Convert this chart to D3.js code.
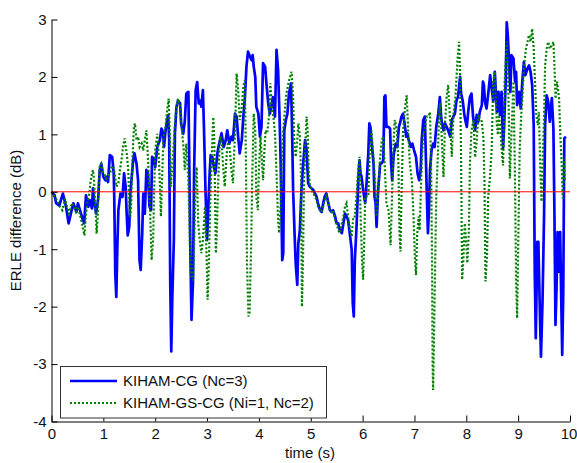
<!DOCTYPE html>
<html>
<head>
<meta charset="utf-8">
<script src="https://cdn.jsdelivr.net/npm/d3@7"></script>
<style>
  html, body { margin: 0; padding: 0; background: #fff; }
  svg { display: block; font-family: "Liberation Sans", Arial, sans-serif; }
</style>
</head>
<body>
<svg id="chart" width="577" height="463"></svg>
<script>
// ---- data ----
const xTicks = [0, 1, 2, 3, 4, 5, 6, 7, 8, 9, 10];
const yTicks = [-4, -3, -2, -1, 0, 1, 2, 3];
const seriesNames = ["KIHAM-CG (Nc=3)", "KIHAM-GS-CG (Ni=1, Nc=2)"];
const xLabel = "time (s)";
const yLabel = "ERLE difference (dB)";

const blueT = [0.0,0.06,0.09,0.15,0.22,0.28,0.33,0.42,0.48,0.51,0.6,0.63,0.665,0.71,0.74,0.78,0.8,0.82,0.86,0.9,0.93,0.96,1.0,1.04,1.06,1.09,1.125,1.17,1.2,1.21,1.23,1.25,1.27,1.29,1.33,1.37,1.4,1.43,1.45,1.47,1.5,1.52,1.575,1.6,1.64,1.67,1.697,1.72,1.75,1.77,1.8,1.83,1.86,1.89,1.92,1.94,1.98,2.0,2.04,2.09,2.12,2.15,2.17,2.2,2.23,2.25,2.27,2.29,2.31,2.33,2.36,2.38,2.41,2.44,2.48,2.5,2.54,2.57,2.6,2.64,2.66,2.68,2.7,2.73,2.75,2.78,2.81,2.84,2.86,2.89,2.92,2.94,2.97,3.0,3.02,3.05,3.07,3.1,3.12,3.16,3.2,3.22,3.25,3.28,3.32,3.36,3.39,3.43,3.47,3.5,3.54,3.57,3.6,3.63,3.67,3.7,3.73,3.76,3.79,3.83,3.86,3.88,3.9,3.93,3.95,3.99,4.02,4.05,4.08,4.12,4.15,4.18,4.21,4.24,4.27,4.31,4.34,4.37,4.4,4.42,4.45,4.47,4.49,4.52,4.55,4.58,4.62,4.64,4.66,4.69,4.71,4.74,4.76,4.79,4.82,4.85,4.89,4.92,4.95,4.98,5.05,5.08,5.11,5.14,5.18,5.21,5.24,5.27,5.3,5.34,5.37,5.4,5.43,5.47,5.5,5.53,5.56,5.6,5.63,5.66,5.69,5.72,5.76,5.79,5.81,5.83,5.85,5.88,5.92,5.94,5.96,5.98,6.01,6.05,6.08,6.11,6.13,6.15,6.17,6.21,6.23,6.25,6.27,6.3,6.34,6.37,6.4,6.42,6.44,6.46,6.5,6.53,6.55,6.57,6.6,6.64,6.67,6.7,6.72,6.75,6.78,6.81,6.84,6.86,6.89,6.93,6.96,6.99,7.03,7.06,7.09,7.12,7.14,7.17,7.2,7.22,7.24,7.26,7.28,7.3,7.33,7.36,7.39,7.42,7.46,7.49,7.52,7.56,7.59,7.62,7.65,7.69,7.72,7.75,7.78,7.81,7.84,7.88,7.9,7.93,7.96,7.98,8.01,8.04,8.07,8.1,8.13,8.17,8.2,8.23,8.26,8.3,8.32,8.34,8.36,8.39,8.42,8.46,8.49,8.52,8.55,8.59,8.62,8.65,8.68,8.71,8.73,8.76,8.78,8.8,8.83,8.85,8.87,8.91,8.94,8.96,8.98,9.02,9.05,9.08,9.11,9.14,9.18,9.21,9.24,9.27,9.3,9.32,9.34,9.37,9.39,9.42,9.44,9.47,9.5,9.52,9.55,9.58,9.61,9.65,9.68,9.7,9.72,9.74,9.76,9.79,9.81,9.83,9.85,9.87,9.89,9.92];
const blueV = [0,-0.06,-0.2,-0.24,-0.03,-0.26,-0.55,-0.2,-0.35,-0.2,-0.47,-0.55,-0.06,-0.26,-0.15,-0.29,0.06,-0.15,-0.38,-0.12,0.38,0.49,0.26,0.2,0.26,0.17,0.64,0.61,0.32,-0.09,-1.42,-1.83,-0.96,-0.32,-0.03,-0.09,0.32,0.09,-0.38,-0.76,-0.61,-0.03,0.55,0.67,0.49,0.2,-1.19,-1.36,-0.72,-0.03,-0.38,0.38,0.32,-0.26,-0.32,0.61,0.55,0.43,0.78,0.9,1.1,1.04,0.78,1.07,1.25,1.33,0.9,-1.59,-2.78,-1.83,-0.84,1.01,1.48,1.59,1.54,1.19,1.01,1.22,1.71,1.74,0.32,-1.13,-2.23,-1.54,0.32,1.77,1.91,1.54,1.59,1.48,1.77,1.13,0.03,-0.84,-0.38,0.32,0.64,0.61,0.49,0.32,0.67,0.78,0.9,1.02,0.78,0.9,1.07,0.84,0.96,0.9,1.36,1.31,0.96,0.67,0.9,1.31,1.65,2.18,2.44,2.35,2.29,2.38,2.18,2.0,1.48,1.36,0.96,1.13,2.24,2.18,1.83,1.54,1.36,1.48,1.65,1.31,2.47,2.12,1.25,0.5,-1.19,-1.07,1.07,1.25,1.36,1.71,1.89,1.07,0.03,-0.78,-1.25,-1.62,-0.9,-0.67,0.03,0.44,0.9,0.73,0.15,0.09,0.03,-0.03,-0.08,-0.2,-0.32,-0.35,-0.2,-0.08,-0.03,-0.2,-0.32,-0.35,-0.32,-0.43,-0.55,-0.55,-0.67,-0.72,-0.55,-0.38,-0.43,-0.49,-0.78,-1.01,-1.94,-2.17,-1.19,-0.67,0.26,0.55,0.32,0.26,0.03,-0.2,0.2,0.67,1.19,1.13,0.9,0.5,-0.08,-0.2,-0.61,0.03,0.5,0.5,0.55,1.65,1.68,1.13,1.13,1.1,0.5,0.2,0.65,0.84,0.78,1.13,1.19,1.31,1.36,1.19,0.96,1.02,0.9,0.78,0.84,0.73,0.61,0.32,0.2,0.38,0.9,1.25,1.31,0.61,-0.08,-0.72,-0.32,0.38,0.73,0.84,0.78,1.13,1.36,1.65,1.25,1.07,1.19,1.13,1.07,0.96,1.25,1.31,1.36,1.59,1.65,2.0,1.71,1.59,1.36,1.25,1.13,1.42,1.65,1.71,1.31,1.07,1.34,1.22,1.39,1.51,1.92,1.86,1.57,1.45,1.68,2.03,1.8,1.57,2.09,1.39,1.74,1.34,1.74,0.76,1.16,1.92,2.95,2.73,2.15,1.74,2.38,2.32,1.92,2.09,1.51,1.74,1.45,1.92,2.26,2.03,2.15,2.2,2.09,1.86,1.16,-1.39,-2.55,-0.87,-0.87,-2.14,-2.87,-1.91,-0.4,1.16,1.68,1.57,1.22,1.63,1.1,-0.4,-2.32,-1.68,-0.7,-1.39,-0.7,-1.8,-2.84,-1.74,0.93,0.96];

const greenT = [0.0,0.06,0.11,0.16,0.21,0.26,0.3,0.34,0.39,0.43,0.47,0.51,0.56,0.6,0.636,0.66,0.69,0.73,0.75,0.78,0.8,0.82,0.85,0.87,0.89,0.91,0.93,0.96,1.0,1.03,1.06,1.09,1.13,1.16,1.19,1.22,1.25,1.29,1.32,1.35,1.38,1.41,1.45,1.48,1.5,1.52,1.54,1.56,1.59,1.61,1.64,1.67,1.7,1.74,1.77,1.8,1.83,1.86,1.9,1.93,1.96,1.98,2.0,2.04,2.07,2.09,2.11,2.13,2.16,2.2,2.23,2.26,2.28,2.3,2.32,2.35,2.38,2.41,2.44,2.48,2.51,2.55,2.57,2.6,2.64,2.67,2.7,2.73,2.75,2.78,2.8,2.83,2.86,2.89,2.92,2.96,2.99,3.01,3.03,3.06,3.09,3.12,3.14,3.17,3.19,3.22,3.25,3.28,3.31,3.34,3.38,3.41,3.44,3.47,3.5,3.54,3.57,3.6,3.63,3.67,3.7,3.73,3.75,3.77,3.8,3.82,3.85,3.87,3.9,3.93,3.95,3.98,4.0,4.03,4.05,4.08,4.11,4.13,4.16,4.2,4.22,4.25,4.28,4.31,4.34,4.37,4.39,4.42,4.44,4.47,4.5,4.53,4.57,4.6,4.63,4.66,4.68,4.71,4.74,4.76,4.79,4.81,4.83,4.85,4.87,4.9,4.92,4.94,4.96,4.98,5.01,5.05,5.08,5.11,5.14,5.18,5.21,5.24,5.27,5.3,5.34,5.37,5.4,5.43,5.47,5.5,5.53,5.56,5.6,5.63,5.66,5.69,5.72,5.76,5.79,5.82,5.85,5.88,5.92,5.94,5.96,5.99,6.01,6.03,6.05,6.08,6.11,6.14,6.17,6.21,6.24,6.27,6.3,6.34,6.37,6.4,6.43,6.46,6.5,6.54,6.57,6.6,6.62,6.66,6.69,6.71,6.73,6.75,6.78,6.82,6.85,6.88,6.91,6.95,6.98,7.01,7.03,7.05,7.08,7.1,7.14,7.17,7.2,7.23,7.27,7.3,7.32,7.34,7.35,7.36,7.38,7.4,7.42,7.45,7.47,7.49,7.52,7.56,7.59,7.62,7.65,7.69,7.72,7.74,7.76,7.79,7.83,7.86,7.88,7.9,7.92,7.94,7.97,8.0,8.02,8.05,8.07,8.1,8.14,8.17,8.2,8.23,8.26,8.3,8.33,8.35,8.37,8.4,8.42,8.46,8.49,8.52,8.55,8.59,8.61,8.63,8.66,8.69,8.71,8.74,8.78,8.8,8.82,8.84,8.86,8.89,8.91,8.94,8.96,8.98,9.0,9.03,9.06,9.08,9.11,9.15,9.18,9.21,9.24,9.27,9.3,9.32,9.35,9.38,9.4,9.43,9.45,9.47,9.5,9.52,9.55,9.58,9.61,9.65,9.68,9.7,9.72,9.75,9.79,9.81,9.84,9.86,9.89,9.9];
const greenV = [0,-0.09,-0.15,-0.26,-0.32,-0.12,-0.26,-0.38,-0.2,-0.26,-0.35,-0.26,-0.44,-0.61,-0.76,-0.44,-0.2,-0.03,0.15,0.32,0.38,0.2,-0.32,-0.73,-0.44,0.09,0.44,0.49,0.32,0.29,0.23,0.26,0.32,0.44,0.44,0.32,0.09,0.15,0.38,0.55,0.78,0.93,0.67,0.38,-0.15,-0.44,-0.15,0.55,1.13,1.19,0.9,0.96,0.78,0.84,0.72,0.9,1.07,0.61,-0.26,-1.19,-0.84,0.03,0.72,1.01,0.61,0.14,-0.43,0.14,0.96,1.13,1.42,1.62,1.01,0.09,0.32,0.72,1.19,1.48,1.62,1.48,1.13,0.72,0.38,0.84,0.2,-0.96,-1.48,-1.54,-0.96,0.2,0.43,-0.55,-0.84,-1.07,-0.84,-0.26,-1.07,-1.88,-1.42,-0.26,0.61,1.3,0.9,-1.07,-0.67,0.32,0.96,0.9,0.44,0.09,0.67,0.9,0.73,0.38,0.15,1.07,2.06,1.77,1.25,1.48,1.83,1.94,0.5,-1.24,-2.17,-2.11,-0.96,0.2,1.36,1.07,-0.08,-0.32,0.38,0.96,0.67,0.2,0.78,1.07,1.02,1.36,1.89,1.42,1.31,1.02,0.32,-0.49,-0.72,-0.2,0.5,1.07,1.42,1.71,1.89,2.0,2.09,1.65,0.9,0.61,0.9,1.19,0.96,0.38,-2.0,-1.24,0.15,0.9,1.31,1.07,0.38,0.15,0.03,-0.03,-0.08,-0.14,-0.26,-0.32,-0.35,-0.26,-0.14,-0.08,-0.2,-0.32,-0.35,-0.32,-0.49,-0.55,-0.67,-0.72,-0.55,-0.43,-0.26,-0.2,-0.43,-0.67,-0.78,-0.43,-0.43,-0.08,0.44,0.61,-0.38,-1.24,-1.53,-0.9,-0.08,-0.08,-0.08,0.73,1.07,0.61,0.2,-0.43,0.03,0.61,0.9,0.96,0.38,-0.2,-0.32,-0.93,0.0,0.9,1.25,1.07,0.5,-0.67,-1.04,-0.08,1.07,1.48,1.68,1.07,0.5,0.2,-0.38,-1.19,-1.45,-0.78,-0.43,-0.67,0.5,1.02,1.07,1.31,1.31,1.39,0.5,-1.24,-2.98,-3.45,-2.4,-1.24,-0.08,0.61,1.19,1.54,1.07,0.26,1.19,1.65,1.86,1.19,0.61,1.07,1.42,1.65,2.29,2.61,2.06,0.5,-1.53,-1.24,-0.55,-0.9,-1.24,-0.67,0.5,1.07,1.25,0.6,0.87,1.34,1.28,1.22,0.93,0.18,-1.56,-1.1,-0.11,0.29,0.76,1.92,2.09,1.16,0.99,1.34,1.05,0.64,0.46,1.92,2.61,2.2,1.34,0.23,0.76,1.45,1.92,0.18,-1.56,-2.2,-0.99,0.76,1.34,1.62,2.15,2.49,2.61,2.73,2.61,2.84,2.49,2.03,1.34,1.16,1.39,0.29,-0.17,0.46,1.34,2.2,2.49,2.61,2.49,2.55,2.61,2.2,1.62,1.92,1.62,1.05,0.46,-0.11,0.58,0.18];

const refT = [0, 10];
const refV = [0, 0];

// ---- chart ----
const svg = d3.select("#chart");
const x = d3.scaleLinear().domain([0, 10]).range([51.5, 570]);
const y = d3.scaleLinear().domain([-4, 3]).range([421.5, 19.5]);

const line = d3.line().x(d => x(d[0])).y(d => y(d[1]));
const zip = (a, b) => a.map((t, i) => [t, b[i]]);

svg.append("path")
  .datum(zip(blueT, blueV))
  .attr("d", line)
  .attr("fill", "none")
  .attr("stroke", "#0000ff")
  .attr("stroke-width", 2.7)
  .attr("stroke-linejoin", "round");

svg.append("path")
  .datum(zip(greenT, greenV))
  .attr("d", line)
  .attr("fill", "none")
  .attr("stroke", "#008000")
  .attr("stroke-width", 2.2)
  .attr("stroke-dasharray", "2,2");

svg.append("path")
  .datum(zip(refT, refV))
  .attr("d", line)
  .attr("fill", "none")
  .attr("stroke", "#ff0000")
  .attr("stroke-width", 1);

// axes
const fmt = d => String(d);
const xAxis = svg.append("g")
  .attr("transform", `translate(0,${y(-4)})`)
  .call(d3.axisBottom(x).tickValues(xTicks).tickFormat(fmt).tickSizeInner(-6).tickSizeOuter(0).tickPadding(7));
const yAxis = svg.append("g")
  .attr("transform", `translate(${x(0)},0)`)
  .call(d3.axisLeft(y).tickValues(yTicks).tickFormat(fmt).tickSizeInner(-6).tickSizeOuter(0).tickPadding(5));

[xAxis, yAxis].forEach(g => {
  g.selectAll("path.domain").attr("stroke", "#000").attr("stroke-width", 1);
  g.selectAll(".tick line").attr("stroke", "#000").attr("stroke-width", 1);
  g.selectAll("text").attr("font-size", 15).attr("fill", "#111")
    .attr("font-family", "'Liberation Sans', Arial, sans-serif");
});
// keep the last x label inside the window
xAxis.selectAll(".tick text").filter(d => d === 10).attr("dx", -1.5);

// axis labels
svg.append("text")
  .attr("x", 310).attr("y", 458)
  .attr("text-anchor", "middle")
  .attr("font-size", 15)
  .attr("fill", "#111")
  .text(xLabel);

svg.append("text")
  .attr("transform", `translate(21,${(y(-4) + y(3)) / 2}) rotate(-90)`)
  .attr("text-anchor", "middle")
  .attr("font-size", 15)
  .attr("fill", "#111")
  .text(yLabel);

// legend
const lg = svg.append("g");
lg.append("rect")
  .attr("x", 60.5).attr("y", 366.5)
  .attr("width", 266).attr("height", 51.5)
  .attr("fill", "#fff")
  .attr("stroke", "#333")
  .attr("stroke-width", 1);

const legendRows = [
  { name: seriesNames[0], color: "#0000ff", width: 2.7, dash: null, cy: 381 },
  { name: seriesNames[1], color: "#008000", width: 2.2, dash: "2,2", cy: 403 }
];
legendRows.forEach(r => {
  lg.append("line")
    .attr("x1", 70).attr("x2", 117)
    .attr("y1", r.cy).attr("y2", r.cy)
    .attr("stroke", r.color)
    .attr("stroke-width", r.width)
    .attr("stroke-dasharray", r.dash);
  lg.append("text")
    .attr("x", 123).attr("y", r.cy)
    .attr("dy", "0.36em")
    .attr("font-size", 15)
    .attr("fill", "#111")
    .text(r.name);
});
</script>
</body>
</html>
